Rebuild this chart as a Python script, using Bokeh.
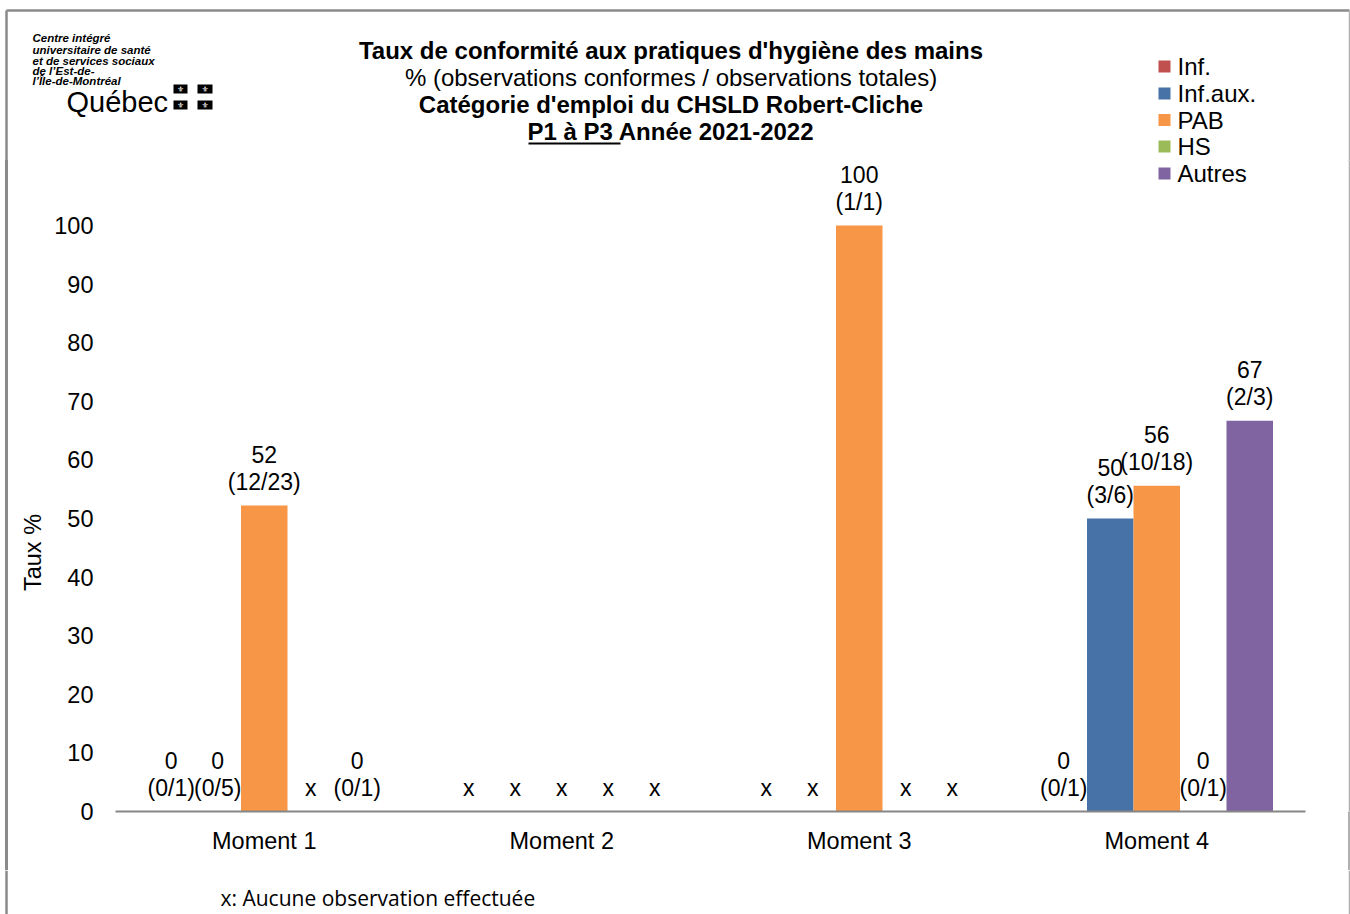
import math
from bokeh.plotting import figure
from bokeh.layouts import column, row
from bokeh.models import (Range1d, FixedTicker, CustomJSTickFormatter, Span)
from bokeh.core.properties import value
from bokeh.embed import file_html
from bokeh.resources import INLINE

# ---------------- data ----------------
moments = ["Moment 1", "Moment 2", "Moment 3", "Moment 4"]
series = ["Inf.", "Inf.aux.", "PAB", "HS", "Autres"]
colors = ["#C0504D", "#4672A8", "#F79646", "#9BBB59", "#8064A2"]

# None = aucune observation effectuée (x)
inf_vals = [0, None, None, 0]
infaux_vals = [0, None, None, 50]
pab_vals = [52.2, None, 100, 55.6]
hs_vals = [None, None, None, 0]
autres_vals = [0, None, None, 66.7]

inf_frac = ["(0/1)", None, None, "(0/1)"]
infaux_frac = ["(0/5)", None, None, "(3/6)"]
pab_frac = ["(12/23)", None, "(1/1)", "(10/18)"]
hs_frac = [None, None, None, "(0/1)"]
autres_frac = ["(0/1)", None, None, "(2/3)"]

y_ticks = [0, 10, 20, 30, 40, 50, 60, 70, 80, 90, 100]

title_lines = [
    "Taux de conformité aux pratiques d'hygiène des mains",
    "% (observations conformes / observations totales)",
    "Catégorie d'emploi du CHSLD Robert-Cliche",
    "P1 à P3 Année 2021-2022",
]
title_styles = ["bold", "normal", "bold", "bold"]
logo_lines = ["Centre intégré", "universitaire de santé", "et de services sociaux",
              "de l’Est-de-", "l’Île-de-Montréal"]
y_title = "Taux %"
footnote = "x: Aucune observation effectuée"

all_vals = [inf_vals, infaux_vals, pab_vals, hs_vals, autres_vals]
all_frac = [inf_frac, infaux_frac, pab_frac, hs_frac, autres_frac]

# ---------------- layout constants (page pixels) ----------------
FONT = value("Liberation Sans")
FS = "23px"
FS_AX = "23.5px"
FS_T = "24px"
PAGE_W, PAGE_H = 1350, 914
HEAD_H = 160          # header strip 0..160
FOOT_TOP = 870        # footer strip 870..914
LEFT_W = 50
FRAME_L, FRAME_B = 115.0, 811.0
PXU, PYU = 297.5, 5.86
BORDER = "#8a8a8a"
BORDER_R = "#b0b0b0"


def blank(w, h, y0, y1, x0=0, x1=None):
    f = figure(width=w, height=h, x_range=Range1d(x0, x1 if x1 is not None else x0 + w),
               y_range=Range1d(y1, y0), output_backend="svg", toolbar_location=None,
               min_border=0, x_axis_type=None, y_axis_type=None)
    f.outline_line_color = None
    f.xgrid.visible = False
    f.ygrid.visible = False
    f.background_fill_color = "white"
    f.border_fill_color = "white"
    return f


# ---------------- header ----------------
H = blank(PAGE_W, HEAD_H, 0, HEAD_H)
H.segment(x0=[6, 6, 1349], y0=[10, 10, 10], x1=[1349, 6, 1349], y1=[10, HEAD_H, HEAD_H],
          line_color=[BORDER, BORDER, BORDER_R], line_width=[2.5, 2.5, 1.5])
H.text(x=[670.5] * 4, y=[50, 77, 104, 131], text=title_lines, text_align="center",
       text_baseline="middle", text_font=FONT, text_font_size=FS_T, text_color="black",
       text_font_style=title_styles)
H.segment(x0=[528], y0=[143], x1=[620], y1=[143], line_color="black", line_width=2)
H.text(x=[32] * 5, y=[37.5, 49, 60, 70.5, 80.5], text=logo_lines, text_align="left",
       text_baseline="middle", text_font=FONT, text_font_size="11.5px",
       text_font_style="bold italic", text_color="black")
H.text(x=[66], y=[101], text=["Québec"], text_align="left", text_baseline="middle",
       text_font=FONT, text_font_size="29px", text_color="black")
H.quad(left=[173, 197, 173, 197], right=[187, 212, 187, 212], top=[84, 84, 100, 100],
       bottom=[93, 93, 109, 109], fill_color="black", line_color=None)
H.text(x=[180, 204.5, 180, 204.5], y=[88.5, 88.5, 104.5, 104.5], text=["⚜"] * 4,
       text_align="center", text_baseline="middle", text_font=value("DejaVu Sans"),
       text_font_size="8px", text_color="white")
leg_y = [66, 93, 119.5, 146, 173]
H.scatter(x=[1164] * 4, y=leg_y[:4], marker="square", size=12, fill_color=colors[:4],
          line_color=None)
H.text(x=[1177] * 4, y=leg_y[:4], text=series[:4], text_align="left", text_baseline="middle",
       text_font=FONT, text_font_size=FS_T, text_color="black")

# ---------------- left strip (axis title); its frame is aligned with the chart frame ----
L = blank(LEFT_W, FOOT_TOP - HEAD_H, HEAD_H, FRAME_B)
L.border_fill_alpha = 0
L.background_fill_alpha = 0
L.styles = {"background": "linear-gradient(to right, #ffffff 5px, #8a8a8a 5px, "
                          "#8a8a8a 7.5px, #ffffff 7.5px)"}
L.segment(x0=[6], y0=[HEAD_H], x1=[6], y1=[FRAME_B], line_color=BORDER, line_width=2.5)
L.text(x=[32], y=[552], text=[y_title], angle=math.pi / 2, text_align="center",
       text_baseline="middle", text_font=FONT, text_font_size=FS_AX, text_color="black")

# ---------------- main chart ----------------
M_W = PAGE_W - LEFT_W
M_H = FOOT_TOP - HEAD_H
x_end = (PAGE_W - FRAME_L) / PXU
y_end = (FRAME_B - HEAD_H) / PYU
p = figure(width=M_W, height=M_H, x_range=Range1d(0, x_end), y_range=Range1d(0, y_end),
           output_backend="svg", toolbar_location=None,
           min_border_left=int(FRAME_L - LEFT_W), min_border_right=0, min_border_top=0,
           min_border_bottom=int(FOOT_TOP - FRAME_B))
p.outline_line_color = None
p.xgrid.grid_line_color = None
p.ygrid.grid_line_color = None
p.background_fill_color = "white"
p.border_fill_alpha = 0
p.styles = {"background": "linear-gradient(to left, #b0b0b0 1.5px, #ffffff 1.5px)"}

p.yaxis.ticker = FixedTicker(ticks=y_ticks)
p.yaxis.axis_line_color = None
p.yaxis.major_tick_line_color = None
p.yaxis.minor_tick_line_color = None
p.yaxis.major_tick_out = 0
p.yaxis.major_tick_in = 0
p.yaxis.minor_tick_out = 0
p.yaxis.major_label_standoff = 22
p.yaxis.major_label_text_font = "Liberation Sans"
p.yaxis.major_label_text_font_size = FS_AX
p.yaxis.major_label_text_color = "black"

p.xaxis.ticker = FixedTicker(ticks=[i + 0.5 for i in range(len(moments))])
p.xaxis.formatter = CustomJSTickFormatter(args=dict(labels=moments),
                                          code="return labels[Math.floor(tick)] || '';")
p.xaxis.bounds = (0, len(moments))
p.xaxis.axis_line_color = "#868686"
p.xaxis.axis_line_width = 2
p.xaxis.major_tick_line_color = None
p.xaxis.minor_tick_line_color = None
p.xaxis.major_tick_out = 0
p.xaxis.major_tick_in = 0
p.xaxis.minor_tick_out = 0
p.xaxis.major_label_standoff = 16
p.xaxis.major_label_text_font = "Liberation Sans"
p.xaxis.major_label_text_font_size = FS_AX
p.xaxis.major_label_text_color = "black"

BW = 46.5 / 297.5
offsets = [-2 * BW, -BW, 0, BW, 2 * BW]
for s, col, vals, fracs, off in zip(series, colors, all_vals, all_frac, offsets):
    xs = [i + 0.5 + off for i in range(len(moments))]
    tops = [v if v is not None else float("nan") for v in vals]
    p.vbar(x=xs, top=tops, width=BW, bottom=0, fill_color=col, line_color=None)

    lx = [x for x, v in zip(xs, vals) if v is not None]
    ly = [v for v in vals if v is not None]
    lv = [f"{v:.0f}" for v in vals if v is not None]
    lf = [f for f in fracs if f is not None]
    p.text(x=lx, y=ly, text=lv, text_align="center", text_baseline="middle", y_offset=-51,
           text_font=FONT, text_font_size=FS, text_color="black")
    p.text(x=lx, y=ly, text=lf, text_align="center", text_baseline="middle", y_offset=-24,
           text_font=FONT, text_font_size=FS, text_color="black")
    xm = [x for x, v in zip(xs, vals) if v is None]
    p.text(x=xm, y=[0] * len(xm), text=["x"] * len(xm), text_align="center",
           text_baseline="middle", y_offset=-24, text_font=FONT, text_font_size=FS,
           text_color="black")

# last legend row (falls below the header strip)
lx5 = (1164 - FRAME_L) / PXU
ly5 = (FRAME_B - leg_y[4]) / PYU
p.scatter(x=[lx5], y=[ly5], marker="square", size=12, fill_color=colors[4], line_color=None)
p.text(x=[(1177 - FRAME_L) / PXU], y=[ly5], text=[series[4]], text_align="left",
       text_baseline="middle", text_font=FONT, text_font_size=FS_T, text_color="black")
p.add_layout(Span(location=(1349 - FRAME_L) / PXU, dimension="height",
                  line_color=BORDER_R, line_width=1.5))

# ---------------- footer ----------------
B = blank(PAGE_W, PAGE_H - FOOT_TOP, FOOT_TOP, PAGE_H)
B.segment(x0=[6, 1349], y0=[FOOT_TOP, FOOT_TOP], x1=[6, 1349], y1=[PAGE_H, PAGE_H],
          line_color=[BORDER, BORDER_R], line_width=[2.5, 1.5])
B.text(x=[220], y=[897], text=[footnote], text_align="left", text_baseline="middle",
       text_font=value("Open Sans"), text_font_size="21px", text_color="black")

layout = column(H, row(L, p, spacing=0), B, spacing=0)
open("out.html", "w").write(file_html(layout, INLINE))
